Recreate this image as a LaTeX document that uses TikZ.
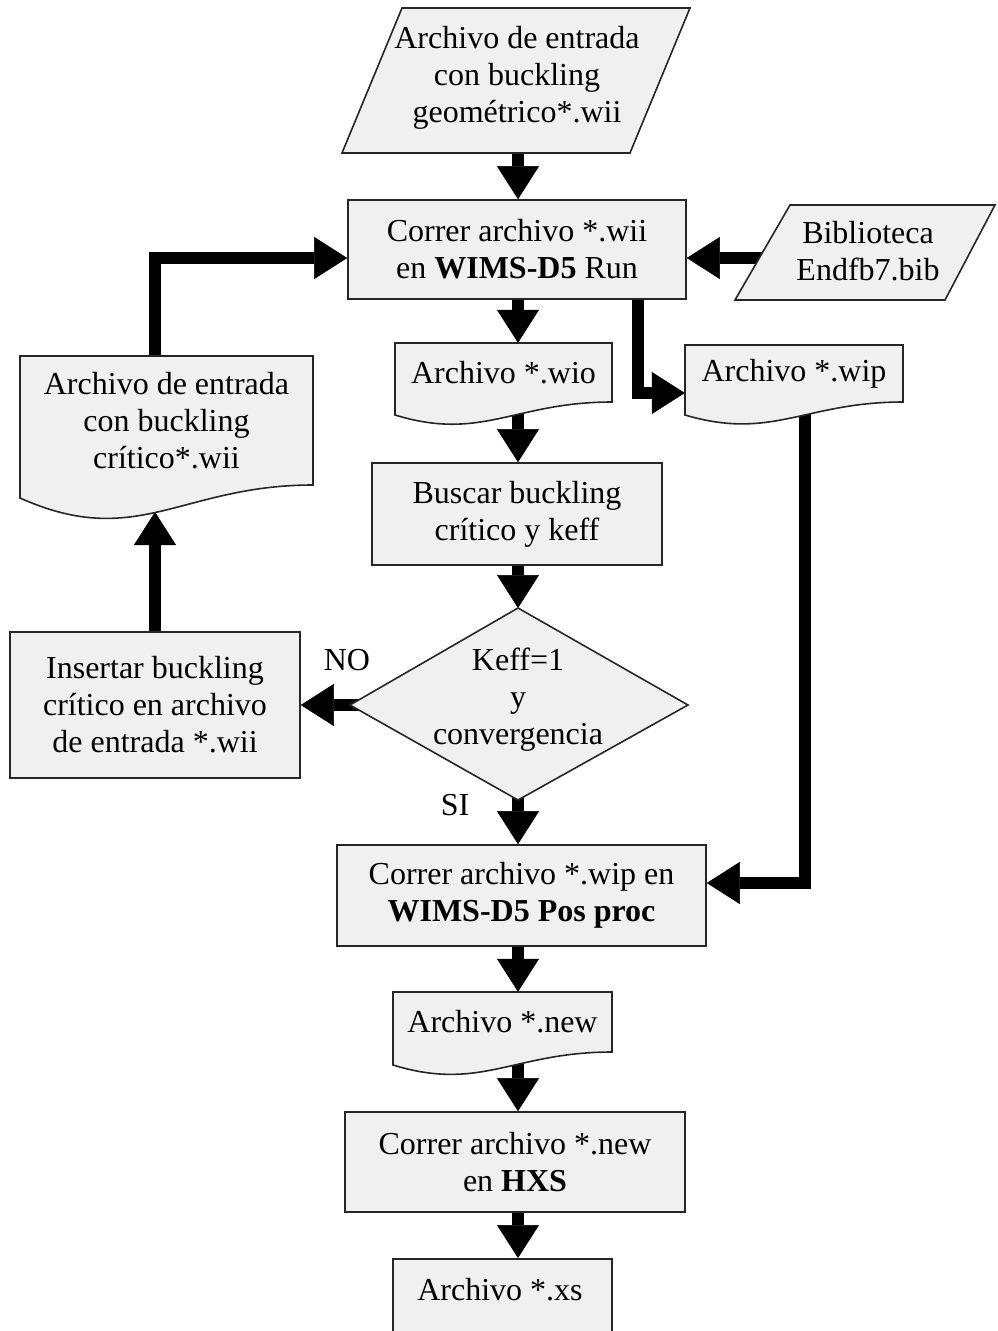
\documentclass[tikz,border=0pt]{standalone}
\usepackage{fontspec}
\setmainfont{Liberation Serif}
\usetikzlibrary{arrows.meta}
\pgfdeclarelayer{bg}
\pgfsetlayers{bg,main}
\tikzset{
  shapebox/.style={draw=black!85, line width=1.6pt, fill=black!6, line join=miter},
  procbox/.style={shapebox, rectangle, inner sep=0pt, align=center},
  lbl/.style={inner sep=0pt, align=center},
  arr/.style={line width=12.5pt, line join=miter, -{Triangle[width=42pt,length=33pt,line width=0.5pt]}},
}
\newcommand\mydoc[7]{%
  \pgfmathsetmacro\dW{#4-#2}%
  \pgfmathsetmacro\dA{#2+0.55*(#4-#2)}%
  \pgfmathsetmacro\dB{#2+0.40*(#4-#2)}%
  \pgfmathsetmacro\dK{#5+0.37*(#5-#3)}%
  \pgfmathsetmacro\dX{(#2+#4)/2}%
  \pgfmathsetmacro\dY{(#3+#6)/2}%
  \pgfmathsetmacro\dH{#6-#3}%
  \path[shapebox] (#2,#3) -- (#4,#3) -- (#4,#6) .. controls (\dA,#6) and (\dB,\dK) .. (#2,#5) -- cycle;
  \node[lbl, minimum width=\dW pt, minimum height=\dH pt] (#1) at (\dX,\dY) {#7};
}
\begin{document}
\begin{tikzpicture}[x=1pt, y=-1pt, font=\fontsize{32}{37}\selectfont]
\useasboundingbox (0,0) rectangle (997,1331);
\coordinate (axis) at (518,0);
\coordinate (lx) at (155,0);
\coordinate (ly) at (0,258);
\coordinate (ex) at (638,0);
\coordinate (ey) at (0,393);
\coordinate (rx) at (805,0);
\coordinate (ry) at (0,883);

% input parallelogram
\path[shapebox] (402,8) -- (690,8) -- (630,153) -- (342,153) -- cycle;
\node[lbl] (inp) at (517,78) {Archivo de entrada\\con buckling\\geométrico*.wii};

\node[procbox, minimum width=338pt, minimum height=99pt] (run) at (517,249.5) {Correr archivo *.wii\\en \textbf{WIMS-D5} Run};

\path[shapebox] (790,205) -- (995,205) -- (945,300) -- (735,300) -- cycle;
\node[lbl] (bib) at (868,251) {Biblioteca\\Endfb7.bib};

\mydoc{wio}{395}{343}{612}{415}{402}{Archivo *.wio}
\mydoc{wip}{685}{345}{903}{415}{402}{Archivo *.wip}
\mydoc{crit}{20}{356}{313}{498}{485}{Archivo de entrada\\con buckling\\crítico*.wii}
\coordinate (critb) at (155,512);

\node[procbox, minimum width=290pt, minimum height=102pt] (busc) at (517,514) {Buscar buckling\\crítico y keff};

\path[shapebox] (518,608) -- (688,705) -- (518,800) -- (350,705) -- cycle;
\coordinate (dN) at (518,608);
\coordinate (dW) at (350,705);
\node[lbl] (dec) at (518,700) {Keff=1\\y\\convergencia};
\node[lbl] (no) at (347,660) {NO};
\node[lbl] (si) at (455,805) {SI};

\node[procbox, minimum width=290pt, minimum height=146pt] (ins) at (155,705) {Insertar buckling\\crítico en archivo\\de entrada *.wii};

\node[procbox, minimum width=369pt, minimum height=101pt] (post) at (521.5,895.5) {Correr archivo *.wip en\\\textbf{WIMS-D5 Pos proc}};

\mydoc{new}{393}{992}{612}{1065}{1052}{Archivo *.new}

\node[procbox, minimum width=340pt, minimum height=100pt] (hxs) at (515,1162) {Correr archivo *.new\\en \textbf{HXS}};

\node[procbox, minimum width=219pt, minimum height=90pt, anchor=north] (xs) at (502.5,1258) {};
\node[lbl] (xst) at (500,1290) {Archivo *.xs};

\begin{pgfonlayer}{bg}
\draw[arr] (inp.center -| axis) -- (run.north -| axis);
\draw[arr] (bib.center |- ly) -- (run.east |- ly);
\draw[arr] (run.center -| axis) -- (wio.north -| axis);
\draw[arr] (run.center -| ex) |- (wip.west |- ey);
\draw[arr] (wio.center -| axis) -- (busc.north -| axis);
\draw[arr] (busc.center -| axis) -- (dN);
\draw[arr] (dec.center |- dW) -- (ins.east |- dW);
\draw[arr] (ins.center -| lx) -- (critb);
\draw[arr] (crit.center -| lx) |- (run.west |- ly);
\draw[arr] (dec.center -| axis) -- (post.north -| axis);
\draw[arr] (wip.center -| rx) |- (post.east |- ry);
\draw[arr] (post.center -| axis) -- (new.north -| axis);
\draw[arr] (new.center -| axis) -- (hxs.north -| axis);
\draw[arr] (hxs.center -| axis) -- (xs.north -| axis);
\end{pgfonlayer}
\end{tikzpicture}
\end{document}
